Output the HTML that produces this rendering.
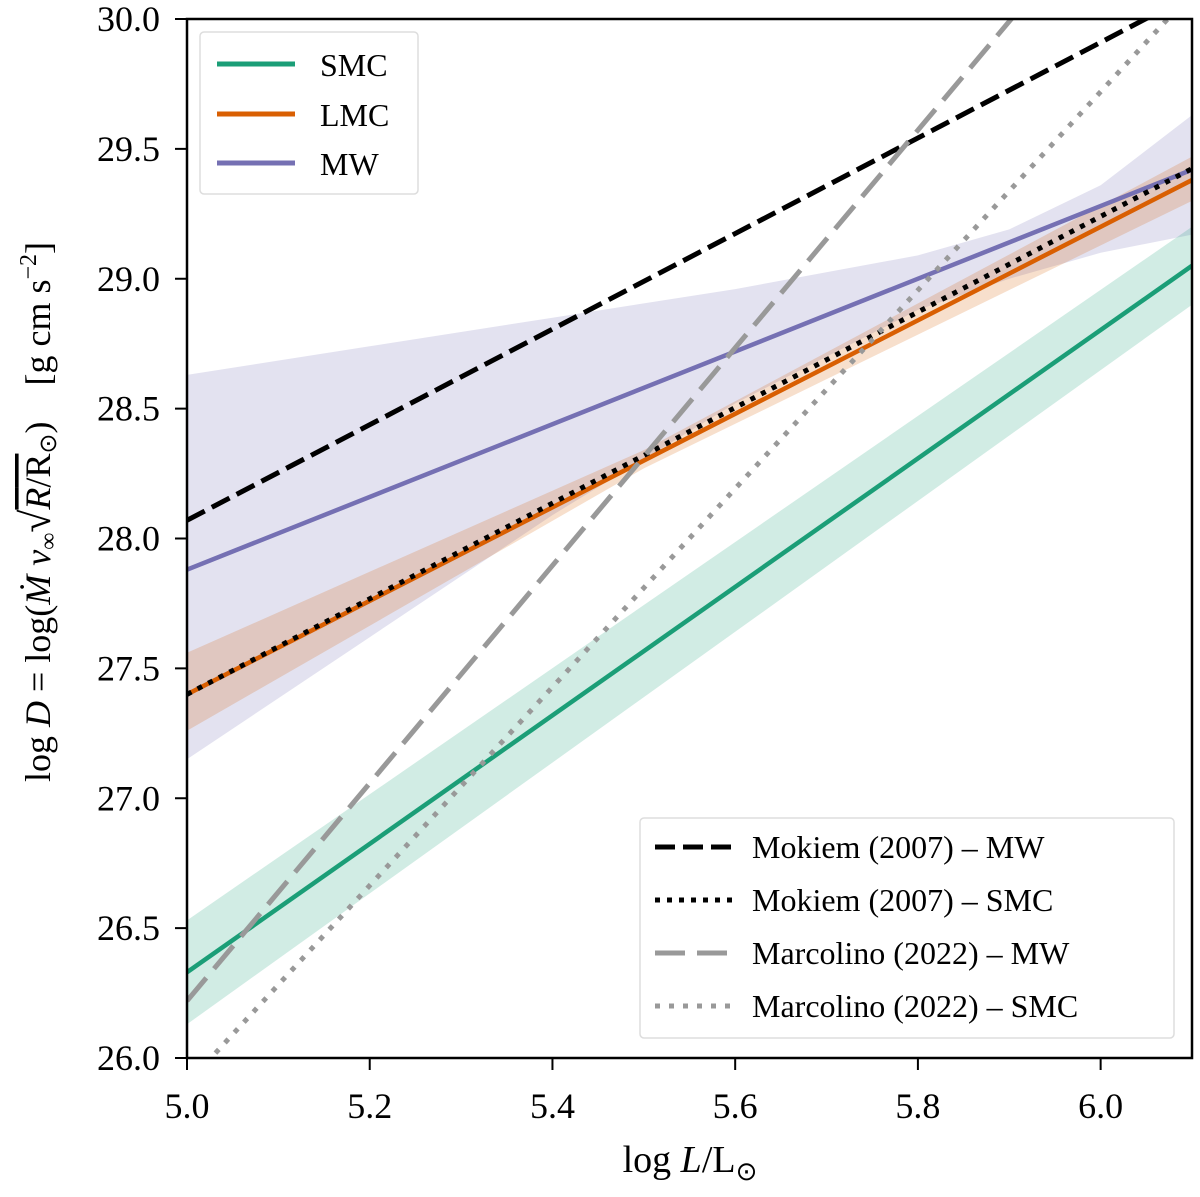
<!DOCTYPE html>
<html><head><meta charset="utf-8"><style>
html,body{margin:0;padding:0;background:#fff;}
svg{display:block;font-family:"Liberation Serif",serif;}
</style></head><body>
<svg id="chart" width="1200" height="1197">
<defs><clipPath id="clip"><rect x="187" y="19" width="1005" height="1039"/></clipPath></defs>
<g id="plot" clip-path="url(#clip)"></g>
<rect x="187" y="19" width="1005" height="1039" fill="none" stroke="#000" stroke-width="2.5"/>
<g id="ticks"></g>
<text x="690" y="1172" font-size="38" text-anchor="middle">log <tspan font-style="italic">L</tspan>/L<tspan font-size="26" dy="8">⊙</tspan></text>
<text transform="translate(50,512) rotate(-90)" font-size="36" text-anchor="middle" xml:space="preserve">log <tspan font-style="italic">D</tspan> = log(<tspan font-style="italic">Ṁ v</tspan><tspan font-size="24" dy="6">∞</tspan><tspan dy="-6" font-size="42">√</tspan><tspan font-style="italic" text-decoration="overline">R</tspan><tspan text-decoration="overline">/R</tspan><tspan font-size="24" dy="6">⊙</tspan><tspan dy="-6">)    [g cm s</tspan><tspan font-size="24" dy="-14">−2</tspan><tspan dy="14">]</tspan></text>
<g>
<rect x="200" y="32" width="218" height="162" rx="4" fill="#fff" fill-opacity="0.8" stroke="#ddd" stroke-width="1.5"/>
<line x1="217" y1="64" x2="295" y2="64" stroke="#1b9e77" stroke-width="5"/>
<text x="320" y="76" font-size="32">SMC</text>
<line x1="217" y1="114" x2="295" y2="114" stroke="#d95f02" stroke-width="5"/>
<text x="320" y="126" font-size="32">LMC</text>
<line x1="217" y1="163" x2="295" y2="163" stroke="#7570b3" stroke-width="5"/>
<text x="320" y="175" font-size="32">MW</text>
</g>
<g>
<rect x="640" y="818" width="534" height="220" rx="4" fill="#fff" fill-opacity="0.8" stroke="#ddd" stroke-width="1.5"/>
<line x1="655" y1="847" x2="735" y2="847" stroke="#000" stroke-width="5" stroke-dasharray="20,8"/>
<text x="752" y="858" font-size="32">Mokiem (2007) – MW</text>
<line x1="655" y1="900" x2="735" y2="900" stroke="#000" stroke-width="5" stroke-dasharray="5,7"/>
<text x="752" y="911" font-size="32">Mokiem (2007) – SMC</text>
<line x1="655" y1="953" x2="735" y2="953" stroke="#999" stroke-width="5" stroke-dasharray="30,12"/>
<text x="752" y="964" font-size="32">Marcolino (2022) – MW</text>
<line x1="655" y1="1006" x2="735" y2="1006" stroke="#999" stroke-width="5" stroke-dasharray="5,9"/>
<text x="752" y="1017" font-size="32">Marcolino (2022) – SMC</text>
</g>
<script>
const xTicks=[5.0,5.2,5.4,5.6,5.8,6.0];
const yTicks=[26.0,26.5,27.0,27.5,28.0,28.5,29.0,29.5,30.0];
const xDomain=[5.0,6.1];
const yDomain=[26.0,30.0];
// fits: [logD at 5.0, logD at 6.1]
const smcLine=[26.33,29.05];
const smcBandLo=[26.13,28.90];
const smcBandHi=[26.53,29.20];
const lmcLine=[27.40,29.38];
const lmcBandX=[5.0,5.5,6.1];
const lmcBandLo=[27.26,28.27,29.30];
const lmcBandHi=[27.56,28.34,29.47];
const mwLine=[27.88,29.42];
const mwBandX=[5.0,5.2,5.4,5.6,5.8,5.9,6.0,6.1];
const mwBandLo=[27.15,27.62,28.09,28.52,28.88,29.00,29.10,29.17];
const mwBandHi=[28.63,28.74,28.85,28.96,29.09,29.19,29.36,29.63];
// literature relations: [logD at 5.0, slope]
const mokiemMW=[28.07,1.84];
const mokiemSMC=[27.40,1.84];
const marcolinoMW=[26.22,4.19];
const marcolinoSMC=[25.90,3.82];

const X=v=>187+(v-xDomain[0])/(xDomain[1]-xDomain[0])*1005;
const Y=v=>1058-(v-yDomain[0])/(yDomain[1]-yDomain[0])*1039;
const NS='http://www.w3.org/2000/svg';
const plot=document.getElementById('plot');
const ticks=document.getElementById('ticks');
function mk(tag,attrs,parent){const e=document.createElementNS(NS,tag);for(const k in attrs)e.setAttribute(k,attrs[k]);parent.appendChild(e);return e;}
function band(xs,lo,hi,fill,op,name){
  let p=xs.map((x,i)=>X(x)+','+Y(lo[i]));
  for(let i=xs.length-1;i>=0;i--)p.push(X(xs[i])+','+Y(hi[i]));
  const e=mk('polygon',{points:p.join(' '),fill:fill,'fill-opacity':op},plot);
  
  
}
function seg(x0,y0,x1,y1,stroke,w,dash,name){
  const e=mk('line',{x1:X(x0),y1:Y(y0),x2:X(x1),y2:Y(y1),stroke:stroke,'stroke-width':w},plot);
  if(dash)e.setAttribute('stroke-dasharray',dash);
  
  
}
function rel(r,stroke,w,dash,name){seg(5.0,r[0],6.1,r[0]+r[1]*1.1,stroke,w,dash,name);}
band(mwBandX,mwBandLo,mwBandHi,'#7570b3',0.2,'mw-band');
band(lmcBandX,lmcBandLo,lmcBandHi,'#d95f02',0.2,'lmc-band');
band([5.0,6.1],smcBandLo,smcBandHi,'#1b9e77',0.2,'smc-band');
seg(5.0,smcLine[0],6.1,smcLine[1],'#1b9e77',4.5,null,'smc-line');
seg(5.0,lmcLine[0],6.1,lmcLine[1],'#d95f02',4.5,null,'lmc-line');
seg(5.0,mwLine[0],6.1,mwLine[1],'#7570b3',4.5,null,'mw-line');
rel(mokiemMW,'#000',5,'20,8','mokiem-mw-line');
rel(mokiemSMC,'#000',5,'5,7','mokiem-smc-line');
rel(marcolinoMW,'#999',5,'30,12','marcolino-mw-line');
rel(marcolinoSMC,'#999',5,'5,9','marcolino-smc-line');
xTicks.forEach(v=>{
  const l=mk('line',{x1:X(v),x2:X(v),y1:1058,y2:1070,stroke:'#000','stroke-width':2},ticks);
  
  
  const t=mk('text',{x:X(v),y:1118,'font-size':36,'text-anchor':'middle'},ticks);
  t.textContent=v.toFixed(1);
  
  
});
yTicks.forEach(v=>{
  const l=mk('line',{x1:175,x2:187,y1:Y(v),y2:Y(v),stroke:'#000','stroke-width':2},ticks);
  
  
  const t=mk('text',{x:160,y:Y(v)+12,'font-size':36,'text-anchor':'end'},ticks);
  t.textContent=v.toFixed(1);
  
  
});
</script>
</svg>
</body></html>
